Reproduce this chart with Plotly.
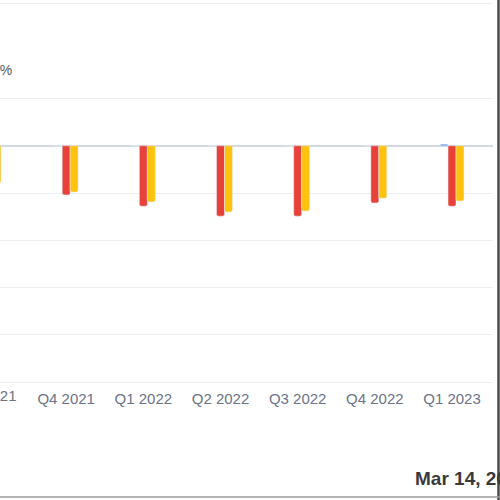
# ----------------------------------------------------------------------------------------------------------------------
#  IMPORT
# ----------------------------------------------------------------------------------------------------------------------
import plotly.graph_objects as go

# ----------------------------------------------------------------------------------------------------------------------
#  DATA
# ----------------------------------------------------------------------------------------------------------------------
quarters     = ["Q3 2021", "Q4 2021", "Q1 2022", "Q2 2022", "Q3 2022", "Q4 2022", "Q1 2023"]
blue_values  = [0, 0, 0, 0, 0, 0, 0.3]
red_values   = [-8.6, -10.4, -12.8, -14.9, -14.9, -12.1, -12.8]
gold_values  = [-7.9, -9.8, -11.9, -14.0, -13.8, -11.1, -11.7]
grid_values  = [30, 10, 0, -10, -20, -30, -40, -50]
axis_caption = "YoY Growth %"
date_caption = "Mar 14, 2023"

# ----------------------------------------------------------------------------------------------------------------------
#  PLOT
# ----------------------------------------------------------------------------------------------------------------------
# pixel geometry of the plot area (the picture is a crop of a wider chart)
W, H = 500, 500
left, right, top, bottom = 0, 7, 2, 116
pw = W - left - right
ph = H - top - bottom

def px_x(p):
    return (p - left) / pw

def px_y(p):
    return (H - bottom - p) / ph

fig = go.Figure()
fig.add_trace(go.Bar(x=quarters, y=blue_values, name='Blue', marker=dict(color='#4a86e8', cornerradius=2)))
fig.add_trace(go.Bar(x=quarters, y=red_values, name='Red', marker=dict(color='#e8413a', cornerradius=2)))
fig.add_trace(go.Bar(x=quarters, y=gold_values, name='Gold', marker=dict(color='#ffc20e', cornerradius=2)))

tick_font = dict(family='Liberation Sans, Arial', size=15, color='#6b7385')

fig.update_xaxes(type='category', range=[0.1425, 6.531], showgrid=False, showline=False, zeroline=False,
                 ticks='', ticklabelstandoff=4, tickfont=tick_font)
fig.update_yaxes(range=[-50.42, 30.42], tickmode='array', tickvals=grid_values, showticklabels=False,
                 gridcolor='#eceef3', gridwidth=1, zeroline=True, zerolinecolor='#d3d8e3', zerolinewidth=1.5)

# partial label of the first quarter, which sits left of the visible area
fig.add_annotation(text=quarters[0], xref='paper', yref='paper', x=px_x(-12), y=px_y(396), xanchor='center',
                   yanchor='middle', showarrow=False, font=tick_font)
fig.add_annotation(text=axis_caption, xref='paper', yref='paper', x=px_x(14), y=px_y(70), xanchor='right',
                   yanchor='middle', showarrow=False,
                   font=dict(family='Liberation Sans, Arial', size=14, color='#555a66'))
fig.add_annotation(text=date_caption, xref='paper', yref='paper', x=px_x(413), y=px_y(478), xanchor='left',
                   yanchor='middle', showarrow=False,
                   font=dict(family='Liberation Sans, Arial', size=19, color='#3a3a3a', weight='bold'))

# frame lines at the right and bottom edge of the crop
fig.add_shape(type='line', xref='paper', yref='paper', x0=px_x(498.5), x1=px_x(498.5), y0=px_y(0), y1=px_y(500),
              line=dict(color='#4a4a4a', width=2.5))
fig.add_shape(type='line', xref='paper', yref='paper', x0=px_x(0), x1=px_x(500), y0=px_y(497), y1=px_y(497),
              line=dict(color='#9a9a9a', width=1.5))

fig.update_layout(width=W, height=H, barmode='group', bargap=0.69, bargroupgap=0,
                  margin=dict(l=left, r=right, t=top, b=bottom),
                  plot_bgcolor='white', paper_bgcolor='white', showlegend=False)

# the page body has a default margin, drop it so the figure sits at the window corner
fig.write_html("out.html", config=dict(displayModeBar=False),
               post_script="document.body.style.margin='0';")
